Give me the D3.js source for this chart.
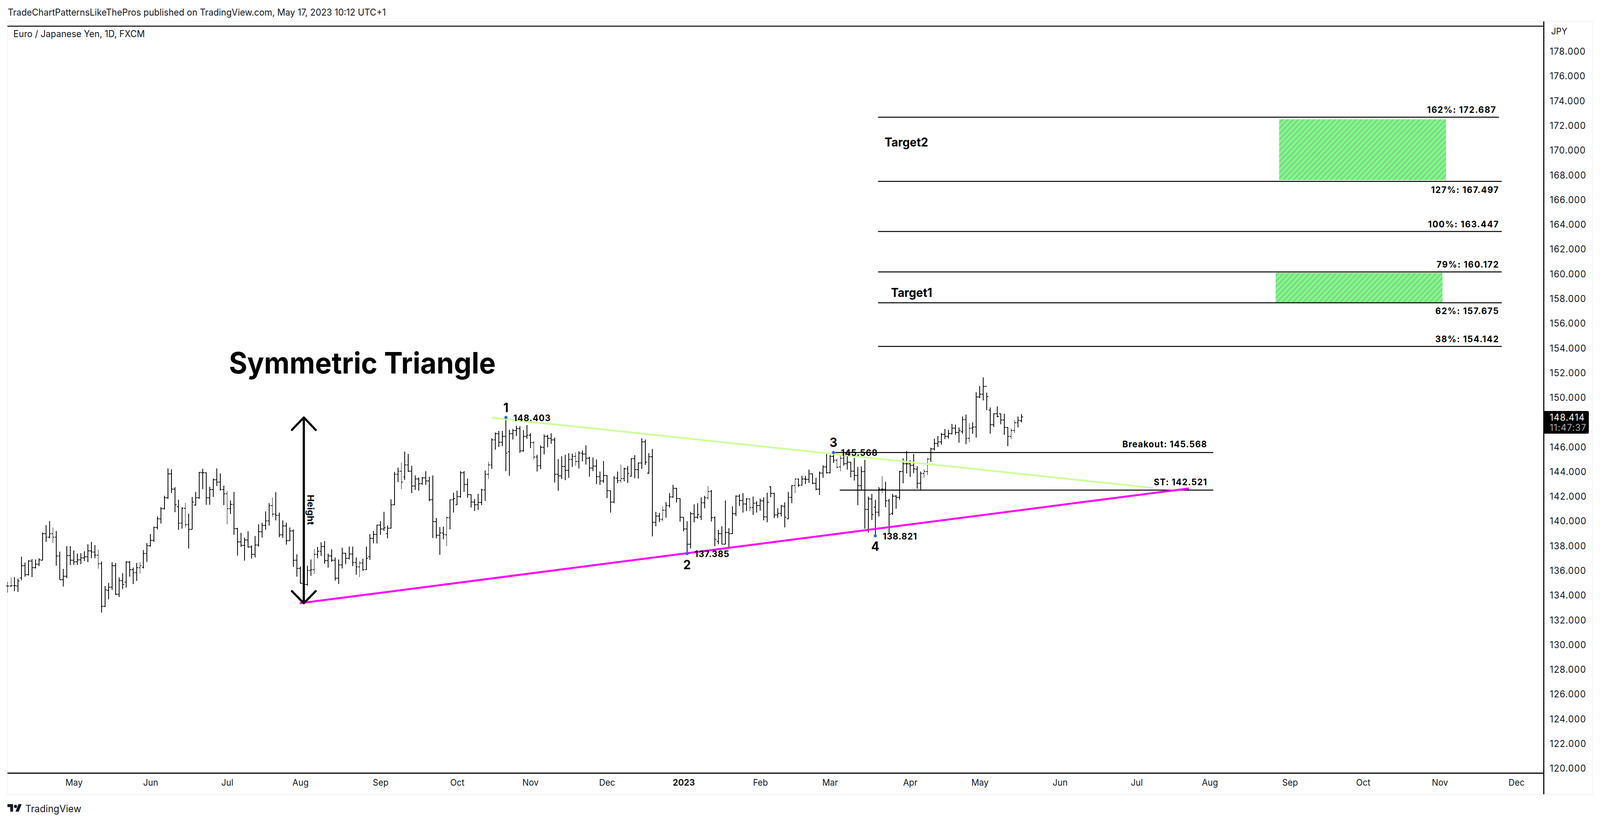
<!DOCTYPE html>
<html>
<head>
<meta charset="utf-8">
<script src="https://cdn.jsdelivr.net/npm/d3@7"></script>
<style>
html, body { margin: 0; padding: 0; background: #fff; width: 100%; height: 100%; overflow: hidden; }
svg { display: block; width: 100vw; height: 100vh; }
text { font-family: Inter, "Noto Sans", sans-serif; fill: #131722; }
</style>
</head>
<body>
<script>
"use strict";
// EUR/JPY daily bars
const opens = [
  134.75,134.75,134.81,134.77,135.42,136.42,135.69,136.78,136.26,136.52,
  136.86,139.01,138.72,139.01,138.72,137.21,135.27,135.56,137.24,136.85,
  136.73,136.89,137.05,137.14,137.62,137.51,137.27,136.58,133.12,134.42,
  134.68,136.42,134.11,135.22,135.09,136.69,136.08,135.85,136.26,136.29,
  137.40,138.03,138.47,139.49,140.20,141.02,141.90,143.82,142.59,141.19,
  139.84,141.06,139.73,139.35,141.31,141.92,143.94,143.92,141.91,142.57,
  143.35,143.18,142.56,142.22,141.03,141.38,139.42,138.33,138.06,138.50,
  137.92,137.33,138.09,139.16,139.65,140.05,141.28,140.58,140.47,138.90,
  139.62,138.44,139.22,136.84,136.20,134.97,134.90,136.03,136.08,137.33,
  137.57,137.97,136.81,137.21,136.84,135.40,136.48,137.42,137.02,137.35,
  136.66,136.30,136.62,136.08,137.14,138.62,138.93,139.69,139.38,139.00,
  139.44,141.35,143.80,144.04,143.58,144.55,144.04,142.87,143.43,143.05,
  143.53,143.28,141.74,139.99,138.86,139.06,138.90,140.29,141.74,141.35,
  142.01,143.92,142.99,142.16,141.56,141.35,141.52,142.53,143.80,144.56,
  146.59,147.10,146.40,146.88,145.65,147.09,147.33,147.49,145.70,146.86,
  146.97,146.36,145.18,144.51,145.97,146.86,146.72,146.57,143.81,143.67,
  144.43,144.11,144.99,145.27,144.86,145.51,145.46,145.11,144.32,144.46,
  143.62,143.25,143.72,142.46,141.56,143.49,143.30,143.46,144.25,143.65,
  145.06,144.17,144.72,146.44,143.91,145.23,139.90,140.43,140.17,140.88,
  141.26,141.98,142.67,141.83,140.32,139.37,138.16,140.61,140.33,140.37,
  141.49,141.91,142.40,140.30,138.37,139.00,138.16,139.09,139.00,140.61,
  142.02,141.67,141.40,141.81,141.11,141.45,141.27,141.64,140.37,142.80,
  142.25,140.51,140.65,141.22,140.20,141.93,142.90,143.42,142.93,143.42,
  143.38,143.82,143.06,142.61,143.91,144.40,143.93,145.25,144.93,144.40,
  145.09,144.67,144.77,144.04,143.72,142.90,144.01,140.96,141.82,141.16,
  140.75,142.61,142.61,141.66,140.63,142.03,141.93,144.03,144.64,144.64,
  144.54,144.22,143.09,143.85,144.01,145.04,145.86,146.30,146.41,147.04,
  146.86,147.09,147.54,147.19,147.25,148.23,146.70,147.54,147.62,150.07,
  150.28,150.90,149.00,147.83,148.70,148.69,148.20,147.60,146.86,147.35,147.99,148.14
];
const highs = [
  135.11,135.45,135.48,135.36,137.12,136.66,136.85,136.94,136.90,137.02,
  139.08,139.68,140.00,139.49,139.22,137.53,136.15,137.99,137.99,137.63,
  137.39,137.41,137.57,138.14,138.33,138.08,137.69,136.75,134.75,135.03,
  136.69,136.64,135.45,135.81,136.78,136.78,136.24,136.62,136.70,137.66,
  138.23,138.96,139.56,140.39,141.14,142.06,144.28,144.22,142.77,141.76,
  141.14,141.50,140.62,141.96,142.38,144.00,144.24,143.95,142.78,143.47,
  144.28,143.86,142.88,142.43,141.68,142.38,139.48,139.06,138.69,139.18,
  138.05,138.80,139.77,139.89,140.80,141.46,141.95,142.35,140.71,140.07,
  139.87,139.50,139.35,137.33,136.33,136.06,136.40,136.90,137.75,137.91,
  138.29,138.39,137.39,137.72,137.06,136.90,137.87,137.45,137.94,137.94,
  137.06,136.78,136.96,137.94,138.96,139.22,139.72,140.01,140.77,139.65,
  141.78,144.00,144.34,144.74,145.64,145.45,144.49,143.70,143.55,143.59,
  144.04,143.62,143.70,140.25,139.54,139.56,140.39,141.74,142.31,142.47,
  144.07,144.07,143.46,142.20,141.80,142.22,142.62,144.12,144.82,146.72,
  147.18,147.30,147.30,148.42,147.40,147.48,147.73,147.69,147.36,147.78,
  147.11,146.48,145.39,146.15,147.02,147.01,147.11,146.76,145.04,145.25,
  145.39,145.51,145.48,145.57,145.67,145.72,146.15,145.22,145.17,145.01,
  144.02,144.88,143.75,142.46,143.64,144.02,144.59,144.35,144.46,145.11,
  145.35,144.74,146.72,146.60,145.51,145.85,140.77,140.67,141.21,141.56,
  142.28,142.95,142.69,141.88,140.32,140.00,140.77,141.37,141.46,141.93,
  142.06,142.85,142.53,140.40,139.32,139.61,141.69,139.43,141.21,142.09,
  142.20,142.30,141.88,141.81,141.99,141.61,141.85,141.93,142.33,142.83,
  142.33,141.06,141.32,141.53,142.37,142.93,143.46,143.46,143.67,143.67,
  144.17,143.87,143.51,144.01,144.54,145.49,145.35,145.57,145.06,145.37,
  145.44,145.25,144.80,145.12,144.40,144.44,144.96,142.00,142.21,141.75,
  142.77,143.63,143.19,141.82,142.21,142.14,144.09,145.09,145.69,144.93,
  145.44,144.46,144.01,144.21,145.14,145.96,146.67,146.90,147.16,147.46,
  147.40,147.88,147.83,147.60,148.49,148.64,147.93,148.00,150.44,150.96,
  151.64,150.41,149.20,148.74,149.30,148.69,148.69,147.62,147.49,148.20,148.49,148.67
];
const lows = [
  134.24,134.67,134.36,134.30,135.23,135.51,135.63,135.48,136.18,136.39,
  136.84,138.35,138.63,138.23,136.42,135.27,134.73,135.39,136.46,136.46,
  136.48,136.54,136.78,136.69,137.02,137.00,136.14,132.61,133.06,133.70,
  134.45,134.04,133.88,134.52,134.63,135.51,134.93,135.18,135.79,136.20,
  136.73,137.97,138.35,139.36,139.81,140.95,141.80,142.29,140.75,139.32,
  139.42,139.50,137.80,139.35,141.26,141.80,142.61,141.35,141.35,141.98,
  142.85,142.47,141.32,139.75,140.57,138.90,137.22,137.93,136.82,137.87,
  136.96,137.08,137.96,138.69,139.32,139.65,140.37,140.08,138.72,138.66,
  138.11,138.41,136.32,135.51,134.96,133.30,134.79,135.60,135.75,137.02,
  137.21,136.56,136.26,136.72,135.21,134.91,136.20,136.52,136.90,136.36,
  135.67,135.48,135.99,136.06,136.87,138.21,138.21,138.90,139.22,138.62,
  139.42,141.32,143.16,142.59,143.35,143.98,142.29,142.53,142.47,142.95,
  142.95,141.62,138.66,138.63,137.30,138.57,137.99,139.36,140.71,141.32,
  141.92,142.38,141.92,141.13,140.83,140.93,141.32,141.66,143.43,144.26,
  145.79,146.03,146.09,144.04,143.68,146.60,146.90,145.55,145.62,146.67,
  145.93,144.99,144.02,144.20,145.41,145.97,146.28,143.14,142.49,143.43,
  143.32,143.53,144.41,144.51,144.28,144.85,144.60,143.60,144.07,143.00,
  142.96,143.12,141.86,140.72,141.46,143.07,143.12,143.22,143.12,143.62,
  143.48,143.44,144.25,144.56,143.83,138.77,139.61,139.95,140.00,140.28,
  141.11,141.90,141.54,139.98,139.19,137.31,137.80,139.93,140.19,140.12,
  141.04,141.74,139.98,137.98,138.14,138.14,138.14,137.87,138.98,140.43,
  141.25,140.72,140.83,140.83,140.51,140.70,140.86,140.07,139.91,141.95,
  140.25,140.27,140.40,139.51,140.16,141.47,142.30,142.80,142.88,143.00,
  143.11,143.00,142.51,142.12,143.53,143.86,143.87,144.72,144.27,144.07,
  144.51,144.19,143.56,143.30,141.32,142.53,139.42,139.08,140.12,138.82,
  140.38,142.27,141.14,139.03,140.51,141.01,141.75,143.09,143.86,143.59,
  143.91,142.64,142.53,143.51,143.75,144.82,145.72,146.00,146.22,146.64,
  146.67,147.04,146.99,146.37,147.09,146.25,146.40,147.09,146.77,149.97,
  149.78,148.97,147.09,147.64,148.41,147.86,147.00,146.09,146.64,147.16,147.59,148.02
];
const closes = [
  134.75,134.81,134.79,135.16,136.42,135.69,136.78,136.26,136.52,136.89,
  139.01,138.72,139.01,138.72,137.21,135.27,135.56,137.24,136.85,136.73,
  136.89,137.05,137.14,137.62,137.51,137.27,136.58,133.12,134.45,134.68,
  136.42,134.11,135.22,134.89,136.69,136.08,135.85,136.26,136.42,137.40,
  138.03,138.47,139.49,140.20,141.02,141.90,143.82,142.59,141.35,139.84,
  141.06,139.73,139.35,141.57,141.92,143.97,143.92,141.91,142.57,143.35,
  143.18,142.56,142.22,141.03,141.38,139.42,138.33,138.06,138.50,137.92,
  137.33,138.09,139.16,139.65,140.05,141.28,140.58,140.47,138.90,139.62,
  138.44,139.22,136.84,136.20,134.97,134.90,136.03,136.08,137.33,137.57,
  137.97,136.81,137.21,136.84,135.40,136.48,137.42,137.02,137.35,136.66,
  136.30,136.62,136.08,137.00,138.62,138.93,139.69,139.38,139.47,139.44,
  141.35,143.80,144.04,143.17,144.55,144.04,142.87,143.43,143.05,143.53,
  143.28,141.74,139.99,138.86,139.06,138.93,140.29,141.74,141.84,142.01,
  143.92,142.99,142.16,141.56,141.35,141.52,142.53,143.80,144.56,146.59,
  147.10,146.40,146.88,145.51,147.09,147.33,147.49,145.69,146.86,146.97,
  146.36,145.18,144.51,145.97,146.86,146.72,146.57,143.81,143.67,144.43,
  144.11,144.99,145.27,144.86,145.51,145.46,145.11,144.32,144.46,143.62,
  143.25,143.72,142.46,141.56,143.49,143.30,143.46,144.25,143.88,145.06,
  144.17,144.72,146.44,144.78,145.23,139.90,140.43,140.17,140.88,141.26,
  141.98,142.67,141.83,140.32,139.37,138.16,140.61,140.33,140.56,141.49,
  141.91,142.40,140.30,138.51,139.00,138.16,139.09,139.00,140.61,142.02,
  141.67,141.40,141.81,141.11,141.45,141.27,141.64,140.37,141.54,142.25,
  140.51,140.65,141.25,140.32,141.93,142.90,143.42,142.93,143.42,143.38,
  143.82,143.06,142.61,143.91,144.40,143.93,145.25,144.93,144.37,145.09,
  144.67,144.77,144.04,143.72,142.90,144.01,140.96,141.82,140.54,140.75,
  142.61,142.61,141.66,140.56,142.03,141.93,144.03,144.64,144.64,144.54,
  144.25,143.09,143.85,144.01,145.04,145.86,146.30,146.41,147.04,146.86,
  147.09,147.54,147.19,147.33,148.23,146.70,147.54,147.62,150.07,150.28,
  150.90,150.09,147.83,148.70,148.49,148.20,147.60,146.86,147.35,147.99,148.16,148.44
];

// axis ticks, 148 sits under the last price tag
const priceTicks = d3.range(120, 180, 2).filter(d => d !== 148);
const monthBars = [19, 41, 63, 84, 107, 129, 150, 172, 194, 216, 236, 259, 279, 302, 324, 345, 368, 389, 411, 433];
const monthLabels = ["May", "Jun", "Jul", "Aug", "Sep", "Oct", "Nov", "Dec", "2023", "Feb", "Mar", "Apr", "May", "Jun", "Jul", "Aug", "Sep", "Oct", "Nov", "Dec"];

// drawings, as [bar, price]
const supportLine = [[83.8, 133.37], [339, 142.66]];
const resistanceLine = [[138.9, 148.38], [328.7, 142.70]];
const heightArrow = [85, 148.4, 133.37];
const pivotNames = ["1", "2", "3", "4"];
const pivotBars = [143, 195, 237, 249];
const pivotPrices = [148.403, 137.385, 145.568, 138.821];
const fibNames = ["162%", "127%", "100%", "79%", "62%", "38%"];
const fibPrices = [172.687, 167.497, 163.447, 160.172, 157.675, 154.142];
const fibStart = 249.8;
const fibEnd = [428, 428.8, 428.8, 428.8, 428.8, 428.8];
const targetNames = ["Target2", "Target1"];
const targetBars = [[364.9, 412.8], [363.9, 411.8]];
const targetPrices = [[172.52, 167.6], [160.1, 157.7]];
const levelNames = ["Breakout", "ST"];
const levelPrices = [145.568, 142.521];
const levelStart = [237.5, 238.8];
const levelEnd = 346;
const lastPrice = 148.414;

const width = 4296, height = 2104;
const plotLeft = 20, plotRight = 4145, plotTop = 67, plotBottom = 1979;

const x = d3.scaleLinear().domain([0, 291]).range([20.5, 2743]);
const y = d3.scaleLinear().domain([120, 178]).range([1967.1, 132]);
const fmt = d3.format(".3f");

// fills whatever the window turns out to be
const svg = d3.select("body").append("svg")
    .attr("viewBox", `0 0 ${width} ${height}`)
    .attr("preserveAspectRatio", "none");

const stripes = svg.append("defs").append("pattern")
    .attr("id", "stripes")
    .attr("patternUnits", "userSpaceOnUse")
    .attr("width", 10)
    .attr("height", 10)
    .attr("patternTransform", "rotate(45)");
stripes.append("rect").attr("width", 10).attr("height", 10).attr("fill", "#7dfc85");
stripes.append("rect").attr("width", 3).attr("height", 10).attr("fill", "#88c48c");

// frame
svg.append("rect")
    .attr("x", 20).attr("y", 55)
    .attr("width", 4256).attr("height", 1978)
    .attr("fill", "none")
    .attr("stroke", "#f0f3fa")
    .attr("stroke-width", 2);
svg.append("line").attr("x1", plotLeft).attr("x2", plotRight).attr("y1", plotTop).attr("y2", plotTop)
    .attr("stroke", "#000").attr("stroke-width", 2.5);
svg.append("line").attr("x1", plotLeft).attr("x2", plotRight).attr("y1", plotBottom).attr("y2", plotBottom)
    .attr("stroke", "#000").attr("stroke-width", 3);
svg.append("line").attr("x1", plotRight).attr("x2", plotRight).attr("y1", 55).attr("y2", 2033)
    .attr("stroke", "#000").attr("stroke-width", 3);

// header and footer text
svg.append("text").attr("x", 21).attr("y", 40)
    .attr("font-size", 23.8)
    .text("TradeChartPatternsLikeThePros published on TradingView.com, May 17, 2023 10:12 UTC+1");
svg.append("text").attr("x", 36).attr("y", 95)
    .attr("font-size", 23.8)
    .text("Euro / Japanese Yen, 1D, FXCM");
svg.append("path")
    .attr("transform", "translate(20,2056) scale(1.08)")
    .attr("fill", "#131722")
    .attr("d", "M14 20H7V9H0V2h14v18zM28 20h-8l7.5-18h8L28 20z");
svg.append("circle").attr("cx", 41.6).attr("cy", 2064).attr("r", 4.3).attr("fill", "#131722");
svg.append("text").attr("x", 68).attr("y", 2079)
    .attr("font-size", 25.5)
    .text("TradingView");

// axes
const yAxis = svg.append("g")
    .attr("transform", `translate(${plotRight},0)`)
    .call(d3.axisRight(y).tickValues(priceTicks).tickFormat(fmt).tickSize(0).tickPadding(16));
yAxis.select(".domain").remove();
yAxis.selectAll("text")
    .attr("font-size", 24)
    .attr("letter-spacing", 1.1);
svg.append("text").attr("x", 4165).attr("y", 88)
    .attr("font-size", 23)
    .text("JPY");

const xAxis = svg.append("g")
    .attr("transform", `translate(0,${plotBottom})`)
    .call(d3.axisBottom(x).tickValues(monthBars)
        .tickFormat((d, i) => monthLabels[i]).tickSize(0).tickPadding(16));
xAxis.select(".domain").remove();
xAxis.selectAll("text")
    .attr("font-size", 23)
    .attr("font-weight", (d, i) => monthLabels[i] === "2023" ? 700 : 400);

// price bars
const barIndex = d3.range(closes.length);
const bars = svg.append("g")
    .attr("stroke", "#000")
    .attr("stroke-width", 2)
    .attr("shape-rendering", "crispEdges");
bars.selectAll("line.range").data(barIndex).join("line").attr("class", "range")
    .attr("x1", d => x(d)).attr("x2", d => x(d))
    .attr("y1", d => y(highs[d])).attr("y2", d => y(lows[d]));
bars.selectAll("line.open").data(barIndex).join("line").attr("class", "open")
    .attr("x1", d => x(d) - 4).attr("x2", d => x(d))
    .attr("y1", d => y(opens[d])).attr("y2", d => y(opens[d]));
bars.selectAll("line.close").data(barIndex).join("line").attr("class", "close")
    .attr("x1", d => x(d)).attr("x2", d => x(d) + 4)
    .attr("y1", d => y(closes[d])).attr("y2", d => y(closes[d]));

// fib levels and target boxes
svg.selectAll("rect.target").data(targetNames).join("rect").attr("class", "target")
    .attr("x", (d, i) => x(targetBars[i][0]))
    .attr("y", (d, i) => y(targetPrices[i][0]))
    .attr("width", (d, i) => x(targetBars[i][1]) - x(targetBars[i][0]))
    .attr("height", (d, i) => y(targetPrices[i][1]) - y(targetPrices[i][0]))
    .attr("fill", "url(#stripes)");
svg.selectAll("line.fib").data(fibPrices).join("line").attr("class", "fib")
    .attr("x1", x(fibStart))
    .attr("x2", (d, i) => x(fibEnd[i]))
    .attr("y1", d => y(d)).attr("y2", d => y(d))
    .attr("stroke", "#000")
    .attr("stroke-width", 2.5);
svg.selectAll("text.fib").data(fibPrices).join("text").attr("class", "fib")
    .attr("x", (d, i) => x(fibEnd[i]) - 7)
    .attr("y", (d, i) => y(d) + (fibNames[i] === "127%" || fibNames[i] === "62%" ? 21 : -19))
    .attr("dy", "0.36em")
    .attr("text-anchor", "end")
    .attr("font-size", 23)
    .attr("font-weight", 700)
    .attr("letter-spacing", 1.7)
    .style("fill", "#000")
    .text((d, i) => `${fibNames[i]}: ${fmt(d)}`);
svg.append("text").attr("x", 2375).attr("y", 364).attr("dy", "0.36em")
    .attr("font-size", 31).attr("font-weight", 700).style("fill", "#000").text(targetNames[0]);
svg.append("text").attr("x", 2392).attr("y", 749).attr("dy", "0.36em")
    .attr("font-size", 31).attr("font-weight", 700).style("fill", "#000").text(targetNames[1]);

// breakout and stop levels
svg.selectAll("line.level").data(levelPrices).join("line").attr("class", "level")
    .attr("x1", (d, i) => x(levelStart[i]))
    .attr("x2", x(levelEnd))
    .attr("y1", d => y(d)).attr("y2", d => y(d))
    .attr("stroke", "#000")
    .attr("stroke-width", 2.5);
svg.selectAll("text.level").data(levelPrices).join("text").attr("class", "level")
    .attr("x", x(levelEnd) - 16)
    .attr("y", d => y(d) - 21)
    .attr("dy", "0.36em")
    .attr("text-anchor", "end")
    .attr("font-size", 23)
    .attr("font-weight", 700)
    .attr("letter-spacing", 1.3)
    .style("fill", "#000")
    .text((d, i) => `${levelNames[i]}: ${fmt(d)}`);

// triangle sides
const trend = d3.line().x(d => x(d[0])).y(d => y(d[1]));
svg.append("path").attr("d", trend(resistanceLine))
    .attr("fill", "none").attr("stroke", "#ccff99").attr("stroke-width", 4.5);
svg.append("path").attr("d", trend(supportLine))
    .attr("fill", "none").attr("stroke", "#ff00ff").attr("stroke-width", 5);

// height arrow
const arrowX = x(heightArrow[0]), arrowTop = y(heightArrow[1]), arrowBottom = y(heightArrow[2]);
svg.append("path")
    .attr("d", `M${arrowX},${arrowTop}V${arrowBottom}`)
    .attr("stroke", "#000").attr("stroke-width", 6).attr("fill", "none");
svg.append("path")
    .attr("d", `M${arrowX - 32},${arrowTop + 32}L${arrowX},${arrowTop}L${arrowX + 32},${arrowTop + 32}`
        + `M${arrowX - 32},${arrowBottom - 31}L${arrowX},${arrowBottom}L${arrowX + 32},${arrowBottom - 31}`)
    .attr("stroke", "#000").attr("stroke-width", 5.5).attr("fill", "none")
    .attr("stroke-linecap", "round").attr("stroke-linejoin", "round");
svg.append("text")
    .attr("transform", `translate(${arrowX + 18},1305) rotate(90)`)
    .attr("dy", "0.36em")
    .attr("text-anchor", "middle")
    .attr("font-size", 24)
    .attr("font-weight", 700)
    .style("fill", "#000")
    .text("Height");

svg.append("text").attr("x", 973).attr("y", 929).attr("dy", "0.36em")
    .attr("text-anchor", "middle")
    .attr("font-size", 75)
    .attr("font-weight", 700)
    .style("fill", "#000")
    .text("Symmetric Triangle");

// pivots
svg.selectAll("circle.pivot").data(pivotBars).join("circle").attr("class", "pivot")
    .attr("cx", d => x(d))
    .attr("cy", (d, i) => y(pivotPrices[i]))
    .attr("r", 4)
    .attr("fill", "#2962ff");
const pivotNameOffset = [-25, 28, -26, 27];
svg.selectAll("text.pivotName").data(pivotNames).join("text").attr("class", "pivotName")
    .attr("x", (d, i) => x(pivotBars[i]))
    .attr("y", (d, i) => y(pivotPrices[i]) + pivotNameOffset[i])
    .attr("dy", "0.36em")
    .attr("text-anchor", "middle")
    .attr("font-size", 32)
    .attr("font-weight", 700)
    .style("fill", "#000")
    .text(d => d);
svg.selectAll("text.pivotPrice").data(pivotPrices).join("text").attr("class", "pivotPrice")
    .attr("x", (d, i) => x(pivotBars[i]) + 20)
    .attr("y", (d, i) => y(pivotPrices[i]) + 1)
    .attr("dy", "0.36em")
    .attr("font-size", 23)
    .attr("font-weight", 700)
    .attr("letter-spacing", 1)
    .style("fill", "#000")
    .text(d => fmt(d));

// last price tag
svg.append("path")
    .attr("d", "M4146,1052H4262a4,4 0 0 1 4,4V1106a4,4 0 0 1 -4,4H4146Z")
    .attr("fill", "#000");
svg.append("text").attr("x", 4161).attr("y", y(lastPrice)).attr("dy", "0.36em")
    .attr("font-size", 24).attr("letter-spacing", 1.1)
    .style("fill", "#fff").text(fmt(lastPrice));
svg.append("text").attr("x", 4161).attr("y", 1094).attr("dy", "0.36em")
    .attr("font-size", 24).attr("letter-spacing", 1.1)
    .style("fill", "#aaa").text("11:47:37");
</script>
</body>
</html>
